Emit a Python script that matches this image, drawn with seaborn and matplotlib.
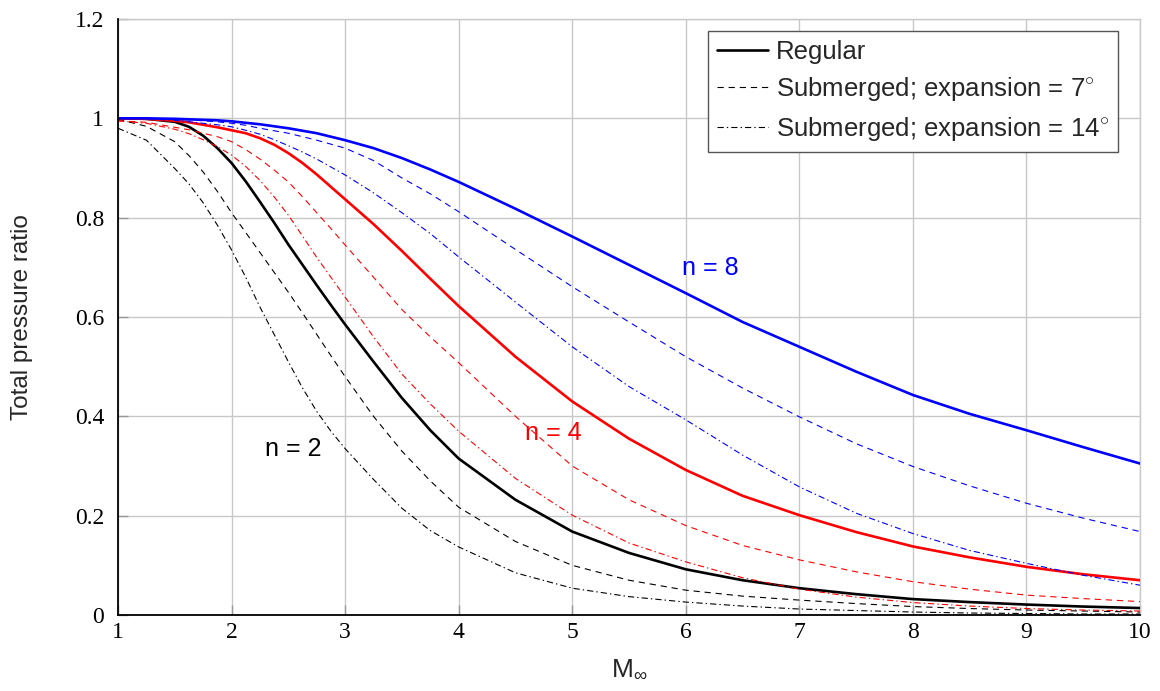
import matplotlib
matplotlib.use("Agg")
import matplotlib.pyplot as plt
from matplotlib.lines import Line2D
import seaborn as sns

# ---- data ----
mach = [1.0, 1.25, 1.5, 1.625, 1.75, 1.875, 2.0, 2.125, 2.25, 2.375, 2.5, 2.625, 2.75, 2.875, 3.0,
        3.25, 3.5, 3.75, 4.0, 4.5, 5.0, 5.5, 6.0, 6.5, 7.0, 7.5, 8.0, 8.5, 9.0, 9.5, 10.0]

# n = 2 (black)
reg_n2 = [1.0, 0.999, 0.993, 0.983, 0.965, 0.94, 0.91, 0.873, 0.832, 0.79, 0.746, 0.705, 0.664, 0.624, 0.585,
          0.51, 0.437, 0.372, 0.315, 0.232, 0.168, 0.125, 0.092, 0.070, 0.054, 0.042, 0.032, 0.026, 0.021, 0.017, 0.014]
sub7_n2 = [0.998, 0.984, 0.953, 0.925, 0.892, 0.853, 0.81, 0.77, 0.73, 0.69, 0.65, 0.608, 0.565, 0.522, 0.48,
           0.40, 0.33, 0.27, 0.217, 0.148, 0.10, 0.07, 0.05, 0.038, 0.030, 0.023, 0.017, 0.013, 0.010, 0.008, 0.006]
sub14_n2 = [0.98, 0.956, 0.899, 0.868, 0.83, 0.785, 0.735, 0.68, 0.62, 0.565, 0.51, 0.457, 0.41, 0.37, 0.335,
            0.273, 0.215, 0.17, 0.137, 0.085, 0.054, 0.037, 0.026, 0.018, 0.012, 0.009, 0.006, 0.004, 0.003, 0.002, 0.002]

# n = 4 (red)
reg_n4 = [1.0, 0.999, 0.995, 0.992, 0.987, 0.982, 0.976, 0.97, 0.96, 0.947, 0.93, 0.91, 0.887, 0.862, 0.837,
          0.787, 0.733, 0.677, 0.622, 0.52, 0.43, 0.355, 0.292, 0.24, 0.201, 0.167, 0.138, 0.116, 0.097, 0.082, 0.070]
sub7_n4 = [0.995, 0.992, 0.982, 0.977, 0.97, 0.963, 0.953, 0.937, 0.918, 0.896, 0.872, 0.842, 0.81, 0.778, 0.745,
           0.68, 0.615, 0.56, 0.508, 0.40, 0.30, 0.232, 0.18, 0.14, 0.111, 0.087, 0.067, 0.052, 0.040, 0.033, 0.027]
sub14_n4 = [0.995, 0.99, 0.978, 0.969, 0.957, 0.943, 0.926, 0.903, 0.875, 0.842, 0.805, 0.763, 0.72, 0.68, 0.64,
            0.56, 0.485, 0.425, 0.37, 0.275, 0.201, 0.145, 0.107, 0.075, 0.052, 0.036, 0.025, 0.018, 0.013, 0.010, 0.008]

# n = 8 (blue)
reg_n8 = [1.0, 1.0, 0.999, 0.998, 0.997, 0.996, 0.994, 0.991, 0.988, 0.984, 0.98, 0.975, 0.97, 0.963, 0.956,
          0.94, 0.92, 0.897, 0.872, 0.818, 0.762, 0.705, 0.648, 0.59, 0.540, 0.49, 0.443, 0.405, 0.372, 0.338, 0.305]
sub7_n8 = [1.0, 1.0, 0.998, 0.997, 0.995, 0.993, 0.99, 0.986, 0.98, 0.975, 0.97, 0.963, 0.956, 0.948, 0.94,
           0.915, 0.88, 0.848, 0.812, 0.736, 0.661, 0.59, 0.52, 0.457, 0.399, 0.345, 0.299, 0.26, 0.225, 0.195, 0.168]
sub14_n8 = [1.0, 0.999, 0.996, 0.993, 0.99, 0.987, 0.983, 0.976, 0.968, 0.957, 0.945, 0.932, 0.918, 0.902, 0.886,
            0.85, 0.81, 0.768, 0.721, 0.63, 0.540, 0.46, 0.393, 0.322, 0.258, 0.205, 0.164, 0.13, 0.104, 0.08, 0.060]

legend_labels = ["Regular", "Submerged; expansion = 7$^{\\circ}$", "Submerged; expansion = 14$^{\\circ}$"]
n_labels = ["n = 2", "n = 4", "n = 8"]
x_ticks = [1, 2, 3, 4, 5, 6, 7, 8, 9, 10]
y_ticks = [0, 0.2, 0.4, 0.6, 0.8, 1.0, 1.2]
y_ticklabels = ["0", "0.2", "0.4", "0.6", "0.8", "1", "1.2"]

# ---- style ----
sns.set_theme(style="white")
plt.rcParams["font.family"] = ["Liberation Sans", "DejaVu Sans"]
plt.rcParams["mathtext.fontset"] = "custom"
plt.rcParams["mathtext.rm"] = "Liberation Sans"
plt.rcParams["lines.scale_dashes"] = False

fig = plt.figure(figsize=(11.6, 6.91), dpi=100)
ax = fig.add_axes([118/1160, 76/691, (1140-118)/1160, (615-19)/691])

DASH = (0, (4.5, 3.5))
DASHDOT = (0, (4.5, 2.2, 1.0, 2.2))
LW_SOLID = 1.9
LW_THIN = 0.8

series = [
    (reg_n2, "black", "-", LW_SOLID),
    (sub7_n2, "black", DASH, LW_THIN),
    (sub14_n2, "black", DASHDOT, LW_THIN),
    (reg_n4, "red", "-", LW_SOLID),
    (sub7_n4, "red", DASH, LW_THIN),
    (sub14_n4, "red", DASHDOT, LW_THIN),
    (reg_n8, "blue", "-", LW_SOLID),
    (sub7_n8, "blue", DASH, LW_THIN),
    (sub14_n8, "blue", DASHDOT, LW_THIN),
]
for vy, col, ls, lw in series:
    sns.lineplot(x=mach, y=vy, ax=ax, color=col, linestyle=ls, linewidth=lw,
                 sort=False, estimator=None, zorder=3)

ax.set_xlim(1, 10)
ax.set_ylim(0, 1.2)
ax.set_xticks(x_ticks)
ax.set_yticks(y_ticks)
ax.set_yticklabels(y_ticklabels)
ax.grid(True, color="#c8c8c8", linewidth=1.0, zorder=0)
ax.set_axisbelow(True)
for lab in ax.get_xticklabels() + ax.get_yticklabels():
    lab.set_family(["Liberation Serif", "DejaVu Serif"])
    lab.set_fontsize(17)
ax.tick_params(axis="both", direction="in", length=7, width=1, color="#999999",
               labelcolor="black", bottom=True, left=True)
ax.tick_params(axis="y", pad=10)
ax.tick_params(axis="x", pad=5)
for side in ["top", "right"]:
    ax.spines[side].set_color("#c8c8c8")
    ax.spines[side].set_linewidth(1.0)
for side in ["left", "bottom"]:
    ax.spines[side].set_color("black")
    ax.spines[side].set_linewidth(1.3)
    ax.spines[side].set_zorder(4)

ax.set_xlabel(r"$\mathregular{M_{\infty}}$", fontsize=19)
ax.xaxis.set_label_coords(0.5, -0.07)
ax.set_ylabel("Total pressure ratio", fontsize=17.5)
ax.yaxis.set_label_coords(-0.083, 0.5)

handles = [Line2D([], [], color="black", linestyle="-", linewidth=LW_SOLID),
           Line2D([], [], color="black", linestyle=DASH, linewidth=LW_THIN),
           Line2D([], [], color="black", linestyle=DASHDOT, linewidth=LW_THIN)]
leg = ax.legend(handles, legend_labels, loc="upper right", bbox_to_anchor=(0.9785, 0.98),
                fontsize=18.5, frameon=True, fancybox=False, framealpha=1,
                edgecolor="#555555", handlelength=2.0, handletextpad=0.3,
                labelspacing=0.45, borderpad=0.35, borderaxespad=0)
leg.get_frame().set_linewidth(1.0)

ax.text(6.22, 0.699, n_labels[2], color="blue", fontsize=18, ha="center", va="center")
ax.text(4.835, 0.366, n_labels[1], color="red", fontsize=18, ha="center", va="center")
ax.text(2.54, 0.334, n_labels[0], color="black", fontsize=18, ha="center", va="center")

fig.savefig("out.png", dpi=100)
